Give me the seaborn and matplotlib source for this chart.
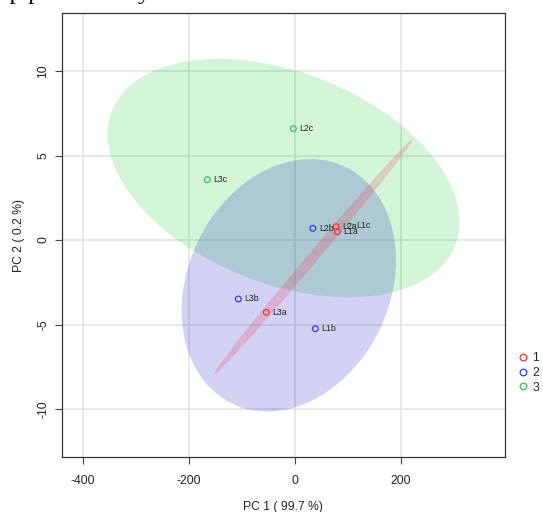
import numpy as np
import pandas as pd
import matplotlib
matplotlib.use("Agg")
import matplotlib.pyplot as plt
from matplotlib.lines import Line2D
import seaborn as sns

# ---- data ----
samples = ['L1a', 'L1b', 'L1c', 'L2a', 'L2b', 'L2c', 'L3a', 'L3b', 'L3c']
pc1 = [79.8, 38.3, 103.8, 77.4, 33.5, -3.2, -54.2, -107.0, -165.5]
pc2 = [0.49, -5.25, 0.83, 0.79, 0.69, 6.59, -4.28, -3.49, 3.57]
group = ['1', '2', '3', '1', '2', '3', '1', '2', '3']
group_levels = ['1', '2', '3']
x_ticks = [-400, -200, 0, 200]
y_ticks = [-10, -5, 0, 5, 10]
x_label = "PC 1 ( 99.7 %)"
y_label = "PC 2 ( 0.2 %)"

point_colors = {'1': '#F03030', '2': '#3A35E8', '3': '#3DBE4E'}
fill_colors = {'1': '#FF1020', '2': '#1410C8', '3': '#00C814'}
fill_alpha = {'1': 0.17, '2': 0.19, '3': 0.17}

df = pd.DataFrame({'sample': samples, 'PC1': pc1, 'PC2': pc2, 'group': group})

sns.set_theme(style='white')
plt.rcParams['font.family'] = ['Liberation Sans', 'DejaVu Sans']

fig = plt.figure(figsize=(5.43, 5.12), dpi=100)
ax = fig.add_axes([0.1147, 0.1068, 0.8144, 0.868])

# confidence ellipses (95%, normal) computed from each group's points
r = np.sqrt(-2.0 * np.log(0.05))
t = np.linspace(0, 2 * np.pi, 300)
for g in ['3', '2', '1']:
    sub = df[df['group'] == g]
    xy = sub[['PC1', 'PC2']].to_numpy()
    mu = xy.mean(axis=0)
    cov = np.cov(xy.T)
    vals, vecs = np.linalg.eigh(cov)
    vals = np.clip(vals, 0, None)
    circ = np.vstack([np.cos(t), np.sin(t)])
    pts = vecs @ (np.sqrt(vals)[:, None] * circ) * r
    ax.fill(mu[0] + pts[0], mu[1] + pts[1], color=fill_colors[g],
            alpha=fill_alpha[g], lw=0, zorder=1)

sns.scatterplot(data=df, x='PC1', y='PC2', hue='group', hue_order=group_levels,
                palette=point_colors, s=17, linewidth=0.9, legend=False,
                ax=ax, zorder=3)
coll = ax.collections[-1]
fcs = coll.get_facecolors()
coll.set_edgecolors(fcs)
coll.set_facecolors('none')

for _, row in df.iterrows():
    ax.annotate(row['sample'], (row['PC1'], row['PC2']), xytext=(4.3, 0),
                textcoords='offset points', ha='left', va='center',
                fontsize=6.3, color='#222222', zorder=4)

ax.set_xlim(-439, 395)
ax.set_ylim(-12.86, 13.44)
ax.set_xticks(x_ticks)
ax.set_yticks(y_ticks)
ax.set_xticklabels([str(v) for v in x_ticks])
ax.set_yticklabels([str(v) for v in y_ticks], rotation=90, va='center')
ax.grid(True, color='#E2E2E2', lw=1.1)
ax.set_axisbelow(True)
ax.tick_params(axis='both', which='major', direction='out', length=5.2,
               width=0.8, color='#444444', labelsize=8.7, labelcolor='#222222',
               bottom=True, left=True)
ax.tick_params(axis='x', pad=7.5)
ax.tick_params(axis='y', pad=4)
for sp in ax.spines.values():
    sp.set_visible(True)
    sp.set_color('#333333')
    sp.set_linewidth(0.9)

ax.set_xlabel(x_label, fontsize=8.7, color='#222222', labelpad=10)
ax.set_ylabel(y_label, fontsize=8.7, color='#222222', labelpad=9)

handles = [Line2D([], [], marker='o', ls='none', mfc='none',
                  mec=point_colors[g], ms=4.8, mew=0.9) for g in group_levels]
fig.legend(handles, group_levels, loc='upper left',
           bbox_to_anchor=(512 / 543, 1 - 346 / 512), frameon=False,
           fontsize=8.7, handlelength=0.8, handletextpad=0.4,
           labelspacing=0.23, borderpad=0)

# text from the page above the figure, cut by the crop (only descenders show)
fig.text(-0.005, 1 + 0.5 / 512, "op productivity", fontsize=18,
         family=['Liberation Serif', 'DejaVu Serif'], ha='left', va='baseline',
         color='black')

fig.savefig('out.png', dpi=100)
